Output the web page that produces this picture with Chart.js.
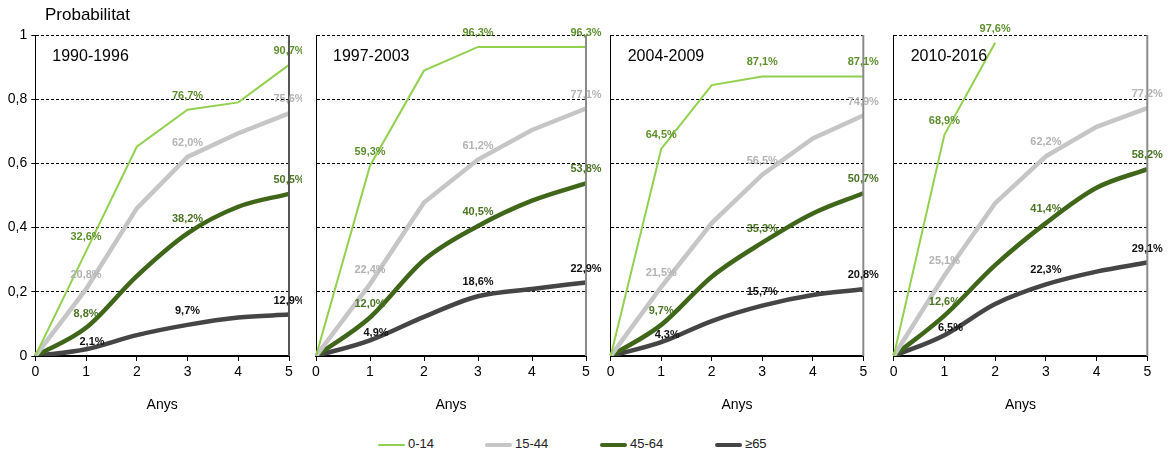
<!DOCTYPE html>
<html><head><meta charset="utf-8">
<script src="https://cdn.jsdelivr.net/npm/chart.js@4.4.0/dist/chart.umd.min.js"></script>
<style>
body{margin:0;background:#fff;width:1168px;height:457px;position:relative;overflow:hidden;font-family:"Liberation Sans",Arial,sans-serif;}
canvas{position:absolute;top:0;}
.lg{position:absolute;top:436px;font-size:13px;color:#222;line-height:16px;white-space:nowrap;}
.sw{display:inline-block;width:27px;vertical-align:middle;margin-right:3px;border-radius:2px;}
</style></head><body>
<canvas id="c0" width="302" height="420" style="left:0px"></canvas>
<canvas id="c1" width="300" height="420" style="left:302px"></canvas>
<canvas id="c2" width="278" height="420" style="left:602px"></canvas>
<canvas id="c3" width="288" height="420" style="left:880px"></canvas>
<div id="legend"></div>
<script>
const years = ['0','1','2','3','4','5'];
const periods = ['1990-1996','1997-2003','2004-2009','2010-2016'];
const seriesNames = ['0-14','15-44','45-64','≥65'];
const yAxisTitle = 'Probabilitat';
const xAxisTitle = 'Anys';

const s1990_0_14  = [0, 0.326, 0.652, 0.767, 0.790, 0.907];
const s1990_15_44 = [0, 0.208, 0.460, 0.620, 0.694, 0.756];
const s1990_45_64 = [0, 0.088, 0.249, 0.382, 0.465, 0.505];
const s1990_65    = [0, 0.021, 0.065, 0.097, 0.120, 0.129];

const s1997_0_14  = [0, 0.593, 0.889, 0.963, 0.963, 0.963];
const s1997_15_44 = [0, 0.224, 0.478, 0.612, 0.704, 0.771];
const s1997_45_64 = [0, 0.120, 0.299, 0.405, 0.484, 0.538];
const s1997_65    = [0, 0.049, 0.122, 0.186, 0.209, 0.229];

const s2004_0_14  = [0, 0.645, 0.844, 0.871, 0.871, 0.871];
const s2004_15_44 = [0, 0.215, 0.414, 0.565, 0.678, 0.749];
const s2004_45_64 = [0, 0.097, 0.247, 0.353, 0.444, 0.507];
const s2004_65    = [0, 0.043, 0.109, 0.157, 0.190, 0.208];

const s2010_0_14  = [0, 0.689, 0.976, null, null, null];
const s2010_15_44 = [0, 0.251, 0.476, 0.622, 0.714, 0.772];
const s2010_45_64 = [0, 0.126, 0.283, 0.414, 0.524, 0.582];
const s2010_65    = [0, 0.065, 0.162, 0.223, 0.263, 0.291];

const panelSeries = [
  [s1990_0_14, s1990_15_44, s1990_45_64, s1990_65],
  [s1997_0_14, s1997_15_44, s1997_45_64, s1997_65],
  [s2004_0_14, s2004_15_44, s2004_45_64, s2004_65],
  [s2010_0_14, s2010_15_44, s2010_45_64, s2010_65]
];

const lineColors  = ['#92d050', '#c6c6c6', '#3f6619', '#454545'];
const lineWidths  = [2, 4.5, 4.5, 4.5];
const tensions    = [0, 0, 0.4, 0.4];
const labelColors = ['#5e8f2e', '#b3b3b3', '#4b7424', '#111111'];

const FONT = '"Liberation Sans", Arial, sans-serif';
Chart.defaults.font.family = FONT;
Chart.defaults.color = '#000';

function fmt(v){ return (v*100).toFixed(1).replace('.', ',') + '%'; }

const labelPlugin = {
  id: 'vlabels',
  afterDatasetsDraw(chart, args, opts){
    const ctx = chart.ctx;
    const ca = chart.chartArea;
    ctx.save();
    ctx.strokeStyle = opts.rightColor;
    ctx.lineWidth = 2;
    ctx.beginPath();
    ctx.moveTo(ca.right, ca.top);
    ctx.lineTo(ca.right, ca.bottom);
    ctx.stroke();
    ctx.font = 'bold 11px ' + FONT;
    ctx.textAlign = 'center';
    ctx.textBaseline = 'middle';
    chart.data.datasets.forEach((ds, di) => {
      const meta = chart.getDatasetMeta(di);
      let last = -1;
      ds.data.forEach((v, i) => { if (v !== null) last = i; });
      ds.data.forEach((v, i) => {
        if (v === null || i === 0) return;
        if (i % 2 === 1 || i === last) {
          const p = meta.data[i];
          let dx = 0, dy = -14;
          if (di === 3 && i === 1) { dx = 6; dy = -7; }
          ctx.fillStyle = ds.labelColor;
          ctx.fillText(fmt(v), p.x + dx, p.y + dy);
        }
      });
    });
    ctx.font = '16px ' + FONT;
    ctx.textAlign = 'left';
    ctx.fillStyle = '#000';
    ctx.fillText(opts.period, ca.left + 17, 57);
    if (opts.yTitle) {
      ctx.font = '17px ' + FONT;
      ctx.fillText(opts.yTitle, 45, 15);
    }
    ctx.restore();
  }
};

const geom = [
  {yw: 35.3, pr: 13, rc: '#555555', showY: true},
  {yw: 14,   pr: 16, rc: '#8a8a8a', showY: false},
  {yw: 8.7,  pr: 16.7, rc: '#8a8a8a', showY: false},
  {yw: 13.7, pr: 20.7, rc: '#8a8a8a', showY: false}
];

panelSeries.forEach((series, pi) => {
  const g = geom[pi];
  new Chart(document.getElementById('c' + pi), {
    type: 'line',
    data: {
      labels: years,
      datasets: series.map((d, si) => ({
        label: seriesNames[si],
        data: d,
        borderColor: lineColors[si],
        backgroundColor: lineColors[si],
        borderWidth: lineWidths[si],
        tension: tensions[si],
        cubicInterpolationMode: si >= 2 ? 'monotone' : 'default',
        pointRadius: 0,
        fill: false,
        spanGaps: false,
        labelColor: labelColors[si]
      }))
    },
    options: {
      responsive: false,
      animation: false,
      devicePixelRatio: 1,
      layout: {padding: {top: 35, right: g.pr, left: 0, bottom: 0}},
      plugins: {
        legend: {display: false},
        tooltip: {enabled: false},
        vlabels: {period: periods[pi], yTitle: g.showY ? yAxisTitle : null, rightColor: g.rc}
      },
      scales: {
        x: {
          type: 'category',
          offset: false,
          grid: {display: true, drawOnChartArea: false, drawTicks: true, tickLength: 5, color: '#000'},
          border: {display: true, color: '#000', width: 2},
          ticks: {color: '#000', font: {size: 14}, padding: 3, maxRotation: 0, autoSkip: false},
          title: {display: true, text: xAxisTitle, color: '#000', font: {size: 14}, padding: {top: 0, bottom: 6}},
          afterFit(s){ s.height = 64; }
        },
        y: {
          min: 0, max: 1,
          ticks: {
            display: g.showY, stepSize: 0.2, color: '#000', font: {size: 14}, padding: 4,
            callback: v => String(Number(v.toFixed(1))).replace('.', ',')
          },
          grid: {color: '#000', lineWidth: 1, drawTicks: g.showY, tickLength: g.showY ? 4 : 0},
          border: {display: true, color: '#000', width: 1, dash: [3, 2]},
          afterFit(s){ s.width = g.yw; }
        }
      }
    },
    plugins: [labelPlugin]
  });
});

const legendLefts = [378, 485, 600, 715];
const legend = document.getElementById('legend');
seriesNames.forEach((n, i) => {
  const d = document.createElement('div');
  d.className = 'lg';
  d.style.left = legendLefts[i] + 'px';
  const sw = document.createElement('span');
  sw.className = 'sw';
  sw.style.height = (i === 0 ? 2 : 4) + 'px';
  sw.style.background = lineColors[i];
  d.appendChild(sw);
  d.appendChild(document.createTextNode(n));
  legend.appendChild(d);
});
</script>
</body></html>
